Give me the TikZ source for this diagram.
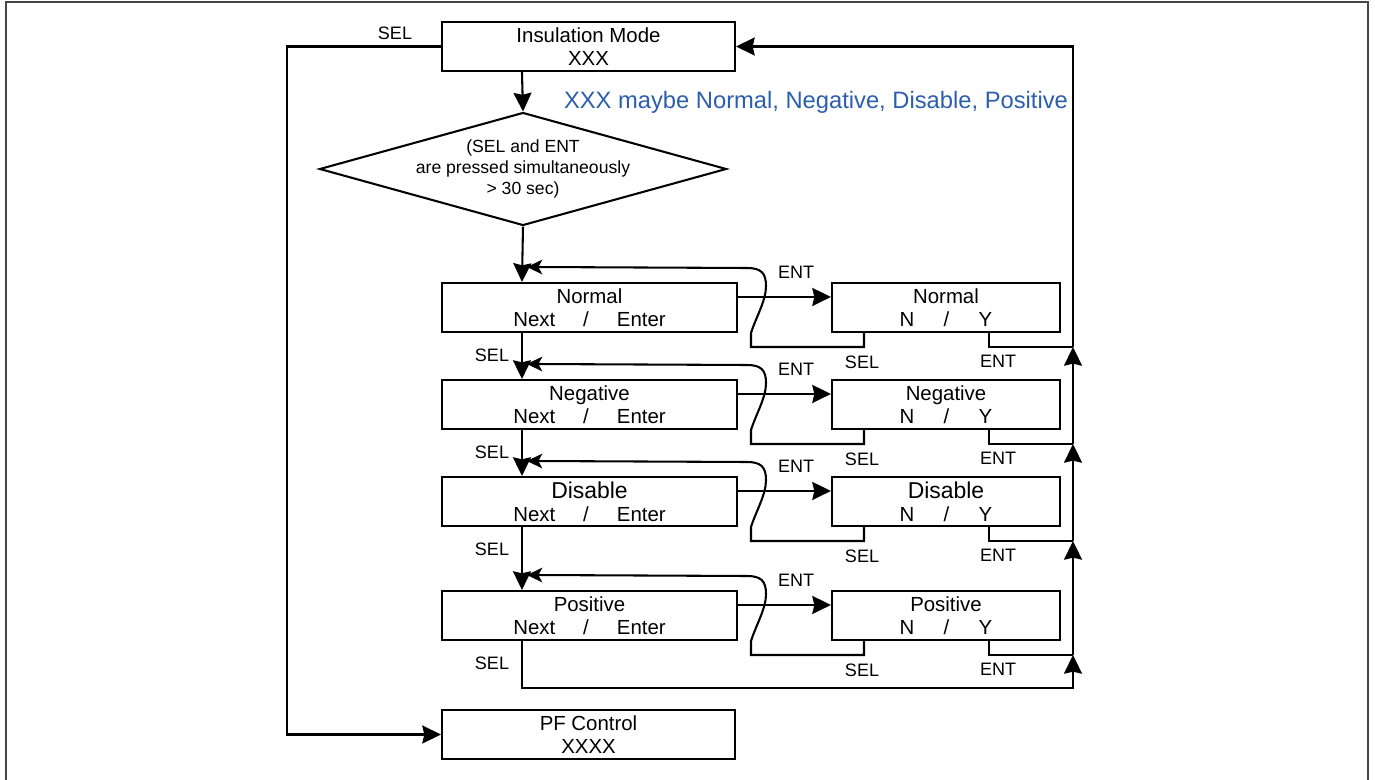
\documentclass[tikz,border=0pt]{standalone}
\usepackage{fontspec}
\setmainfont{Liberation Sans}
\usetikzlibrary{arrows.meta,shapes.geometric}
\definecolor{noteblue}{RGB}{44,94,174}
\definecolor{framegray}{RGB}{70,70,70}
\newcommand\bxfont{\fontsize{15.3}{17.3}\selectfont}
\newcommand\bigbx{\fontsize{17.2}{17.3}\selectfont}
\newcommand\lblfont{\fontsize{13.5}{15}\selectfont}
\newcommand\diafont{\fontsize{13.2}{15.8}\selectfont}
\newcommand\notefont{\fontsize{17.8}{20}\selectfont}

\begin{document}
\begin{tikzpicture}[x=0.75pt,y=-0.75pt,line width=1.55pt,
  box/.style={draw, rectangle, inner sep=0pt, align=center,
    minimum height=36.75pt, font=\bxfont},
  lbox/.style={box, minimum width=221.25pt},
  rbox/.style={box, minimum width=171pt},
  dia/.style={draw, diamond, inner sep=0pt, minimum width=305.25pt,
    minimum height=84.75pt},
  diatxt/.style={align=center, inner sep=0pt, font=\diafont},
  lbl/.style={inner sep=0pt, font=\lblfont},
  arr/.style={-{Stealth[length=14pt,width=13.5pt,inset=1.5pt]}},
  looparr/.style={-{Stealth[length=11.5pt,width=11pt,inset=3pt]}}]

\useasboundingbox (0,0) rectangle (1375,780);
% outer frame
\draw[framegray, line width=1.1pt] (6,780) -- (6,2) -- (1368,2) -- (1368,780);

% top of the flow
\node[box, minimum width=219.75pt] (ins) at (588.5,46.5) {Insulation Mode\\XXX};
\node[lbl] (selTop) at (395,33) {SEL};
\node[dia] (dia) at (523,169) {};
\node[diatxt] (diaText) at (523,169)
  {(SEL and ENT\\are pressed simultaneously\\> 30 sec)};
\node[anchor=west, inner sep=0pt, text=noteblue, font=\notefont] (note)
  at (563,102) {XXX maybe Normal, Negative, Disable, Positive};

% mode rows
\node[lbox] (nrm) at (589.5,307.5) {Normal\\Next\hspace{21pt}/\hspace{21pt}Enter};
\node[rbox] (nrmR) at (946,307.5) {Normal\\N\hspace{22pt}/\hspace{22pt}Y};
\node[lbox] (neg) at (589.5,404.5) {Negative\\Next\hspace{21pt}/\hspace{21pt}Enter};
\node[rbox] (negR) at (946,404.5) {Negative\\N\hspace{22pt}/\hspace{22pt}Y};
\node[lbox] (dis) at (589.5,501.5) {{\bigbx Disable}\\Next\hspace{21pt}/\hspace{21pt}Enter};
\node[rbox] (disR) at (946,501.5) {{\bigbx Disable}\\N\hspace{22pt}/\hspace{22pt}Y};
\node[lbox] (pos) at (589.5,615.5) {Positive\\Next\hspace{21pt}/\hspace{21pt}Enter};
\node[rbox] (posR) at (946,615.5) {Positive\\N\hspace{22pt}/\hspace{22pt}Y};

\node[box, minimum width=219.75pt] (pf) at (588.5,734.5) {PF Control\\XXXX};

% return bus on the right
\coordinate (j1) at (1073,347);
\coordinate (j2) at (1073,444);
\coordinate (j3) at (1073,541);
\coordinate (j4) at (1073,655);
\coordinate (jb) at (1073,688);

% main vertical flow
\draw[arr] ([xshift=60.75pt]ins.south west) -- (dia.north);
\draw[arr] (dia.south) -- ([xshift=60.75pt]nrm.north west);
\draw[arr] ([xshift=60.75pt]nrm.south west) -- ([xshift=60.75pt]neg.north west);
\draw[arr] ([xshift=60.75pt]neg.south west) -- ([xshift=60.75pt]dis.north west);
\draw[arr] ([xshift=60.75pt]dis.south west) -- ([xshift=60.75pt]pos.north west);
\draw[arr] ([xshift=60.75pt]pos.south west) |- (jb) -- (j4);
\draw[arr] (j4) -- (j3);
\draw[arr] (j3) -- (j2);
\draw[arr] (j2) -- (j1);
\draw[arr] (j1) |- (ins.east);
\draw[arr] (ins.west) -- ++(-154,0) |- (pf.west);

% per-row connectors and labels
\foreach \L/\R/\T in {nrm/nrmR/283, neg/negR/380, dis/disR/477, pos/posR/591} {
  \draw[arr] ([yshift=-11.25pt]\L.north east) -- ([yshift=-11.25pt]\R.north west);
  \draw[looparr] ([xshift=24.75pt]\R.south west) |- (751,{\T+64}) -- (751,{\T+50})
     .. controls (756,{\T+34}) and (766,{\T+18}) .. (766,{\T+3})
     .. controls (766,{\T-10}) and (761,{\T-15}) .. (747,{\T-15})
     -- ([xshift=64.5pt,yshift=11.25pt]\L.north west);
  \draw ([xshift=118.5pt]\R.south west) |- (1073,{\T+64});
  \node[lbl] (entTop\T) at (796,{\T-11}) {ENT};
  \node[lbl] (selLeft\T) at (492,{\T+72}) {SEL};
  \node[lbl] (selRight\T) at (862,{\T+79}) {SEL};
  \node[lbl] (entRight\T) at (998,{\T+78}) {ENT};
}
\end{tikzpicture}
\end{document}
